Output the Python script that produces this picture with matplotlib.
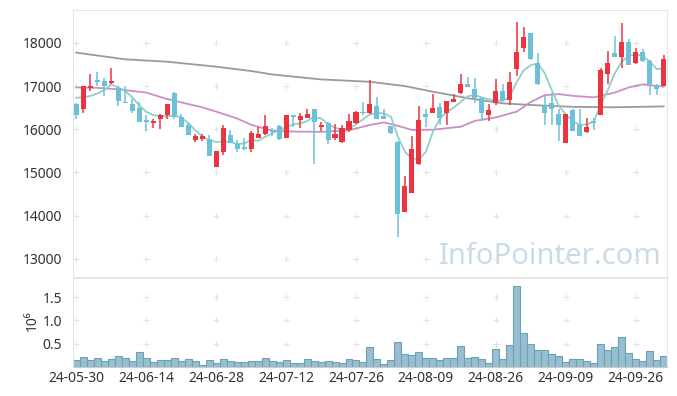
import matplotlib.pyplot as plt
import numpy as np

plt.rcParams['font.family'] = ['Noto Sans', 'DejaVu Sans']

# daily OHLC (KRW), 24-05-30 .. 24-10-04
opens = [16580, 16480, 16960, 17120, 17120, 17080, 16950, 16630, 16580, 16490,
         16190, 16150, 16230, 16320, 16840, 16280, 16100, 15760, 15780, 15780,
         15130, 15480, 15870, 15650, 15580, 15540, 15810, 15880, 15975, 16070,
         15810, 16330, 16210, 16270, 16460, 16060, 16145, 15810, 15710, 15980,
         16140, 16400, 16370, 16540, 16300, 16070, 15710, 14090, 14530, 15190,
         16350, 16380, 16510, 16380, 16640, 16830, 17060, 16930, 16715, 16330,
         16600, 16880, 16680, 17390, 17890, 18240, 17530, 16540, 16620, 16350,
         15690, 16440, 16110, 15930, 16190, 16330, 17270, 17760, 17680, 18010,
         17530, 17780, 17580, 17020, 17010]
highs = [16600, 17010, 17280, 17330, 17180, 17430, 17000, 17000, 16690, 16640,
         16320, 16240, 16350, 16590, 16860, 16345, 16150, 15890, 15890, 15870,
         15500, 16100, 15980, 15750, 15810, 15970, 16060, 16330, 16020, 16090,
         16340, 16340, 16370, 16460, 16470, 16180, 16160, 16120, 16100, 16350,
         16420, 16630, 17140, 16750, 16480, 16080, 15720, 14920, 15840, 16540,
         16480, 16810, 16620, 16660, 16810, 17270, 17220, 17190, 16740, 16580,
         17160, 17040, 17330, 18490, 18370, 18240, 17760, 16780, 16830, 16470,
         16350, 16470, 16470, 16270, 16270, 17410, 17810, 18160, 18450, 18090,
         17890, 17860, 17600, 17060, 17730]
lows = [16240, 16380, 16890, 17000, 16770, 17060, 16550, 16600, 16370, 16175,
        15970, 16030, 16000, 16230, 16240, 16060, 15860, 15710, 15740, 15390,
        15130, 15400, 15680, 15480, 15530, 15480, 15800, 15860, 15850, 15750,
        15810, 16060, 16040, 16260, 15190, 15970, 15660, 15750, 15690, 15940,
        16130, 16330, 16360, 16240, 16230, 15900, 13500, 14090, 14520, 15180,
        16060, 16370, 16100, 16100, 16630, 16820, 16980, 16620, 16190, 16190,
        16560, 16660, 16560, 17240, 17790, 17600, 17030, 16100, 16100, 15740,
        15690, 15950, 15840, 15920, 15980, 16330, 17040, 17670, 17420, 17490,
        17510, 17560, 16790, 16790, 17000]
closes = [16340, 17000, 17000, 17100, 17000, 17120, 16660, 16610, 16430, 16175,
          16180, 16200, 16320, 16580, 16290, 16060, 15870, 15840, 15840, 15390,
          15500, 16030, 15690, 15540, 15540, 15920, 15890, 16080, 15935, 15780,
          16330, 16290, 16310, 16345, 16175, 16100, 15750, 15890, 16020, 16190,
          16390, 16370, 16580, 16245, 16250, 15905, 14050, 14685, 15540, 16210,
          16290, 16490, 16270, 16650, 16700, 17060, 16990, 16715, 16380, 16440,
          16880, 16680, 17085, 17780, 18130, 17620, 17050, 16380, 16480, 16100,
          16350, 15960, 15850, 16060, 16140, 17370, 17525, 17680, 18010, 17500,
          17780, 17580, 17040, 16930, 17625]

# volume in millions of shares
volume_m = [0.16, 0.21, 0.16, 0.19, 0.14, 0.18, 0.24, 0.20, 0.14, 0.33,
            0.19, 0.11, 0.16, 0.16, 0.19, 0.14, 0.17, 0.14, 0.05, 0.16,
            0.09, 0.17, 0.14, 0.11, 0.11, 0.14, 0.14, 0.19, 0.14, 0.11,
            0.16, 0.09, 0.09, 0.17, 0.14, 0.11, 0.14, 0.12, 0.10, 0.17,
            0.16, 0.11, 0.43, 0.17, 0.06, 0.16, 0.54, 0.28, 0.26, 0.32,
            0.19, 0.19, 0.16, 0.19, 0.19, 0.45, 0.19, 0.21, 0.17, 0.09,
            0.39, 0.17, 0.47, 1.74, 0.73, 0.49, 0.36, 0.36, 0.28, 0.24,
            0.11, 0.17, 0.17, 0.13, 0.09, 0.49, 0.36, 0.43, 0.64, 0.30,
            0.17, 0.13, 0.34, 0.15, 0.24]

# moving averages
ma5 = [16730, 16740, 16770, 16830, 16905, 17040, 16970, 16890, 16740, 16560,
       16405, 16330, 16305, 16305, 16320, 16275, 16150, 15980, 15845, 15735,
       15710, 15710, 15710, 15660, 15670, 15750, 15735, 15825, 15905, 15980,
       16045, 16115, 16135, 16190, 16290, 16250, 16120, 16035, 16000, 16015,
       16120, 16230, 16345, 16380, 16365, 16290, 15825, 15480, 15325, 15305,
       15480, 15945, 16250, 16405, 16505, 16635, 16770, 16790, 16740, 16690,
       16675, 16655, 16755, 17100, 17370, 17485, 17525, 17295, 16905, 16545,
       16345, 16190, 16100, 16115, 16175, 16575, 16905, 17295, 17565, 17700,
       17735, 17700, 17565, 17395, 17410]
ma20_x = [0, 3, 6, 10, 13, 18, 20, 23, 25, 28, 30, 35, 39, 42, 44, 46, 48,
          51, 55, 57, 60, 63, 65, 67, 69, 71, 74, 77, 79, 81, 84]
ma20 = [16970, 16960, 16925, 16850, 16700, 16510, 16410, 16250, 16105, 15970,
        15950, 15940, 15980, 16100, 16160, 16080, 15985, 15990, 16060, 16195,
        16275, 16410, 16635, 16790, 16815, 16775, 16740, 16850, 16970, 17040,
        16985]
ma_long_x = [0, 7, 13, 20, 25, 28, 35, 42, 47, 51, 56, 61, 66, 71, 77, 84]
ma_long = [17775, 17620, 17565, 17450, 17350, 17270, 17155, 17100, 17000,
           16870, 16720, 16600, 16555, 16520, 16510, 16530]

tick_pos = [0, 10, 20, 30, 40, 50, 60, 70, 80]
tick_labels = ['24-05-30', '24-06-14', '24-06-28', '24-07-12', '24-07-26',
               '24-08-09', '24-08-26', '24-09-09', '24-09-26']
price_ticks = [13000, 14000, 15000, 16000, 17000, 18000]
vol_ticks = [0.5, 1.0, 1.5]

red = '#ec3440'
blue = '#6cc1d8'
spine_c = '#e6e6e6'
cross_c = '#e4e4e4'

x = np.arange(len(opens))
o = np.array(opens)
c = np.array(closes)
colors = [red if cc >= oo else blue for oo, cc in zip(o, c)]

fig = plt.figure(figsize=(6.77, 3.96), dpi=100)
ax = fig.add_axes([0.108, 0.3005, 0.877, 0.674])
axv = fig.add_axes([0.108, 0.0725, 0.877, 0.226], sharex=ax)

# watermark
ax.text(0.803, 0.078, 'InfoPointer.com', transform=ax.transAxes, fontsize=21,
        color='#c9dce6', ha='center', va='center', zorder=0)

# grid crosses
gx, gy = np.meshgrid(tick_pos, price_ticks)
ax.plot(gx.ravel(), gy.ravel(), '+', color=cross_c, ms=4, mew=0.8, zorder=0)
vx, vy = np.meshgrid(tick_pos, vol_ticks)
axv.plot(vx.ravel(), vy.ravel(), '+', color=cross_c, ms=4, mew=0.8, zorder=0)

# moving averages
ax.plot(ma_long_x, ma_long, color='#9a9a9a', lw=1.3, zorder=2)
ax.plot(ma20_x, ma20, color='#cc8ec7', lw=1.3, zorder=2)
ax.plot(x, ma5, color='#8fd0c6', lw=1.3, zorder=2)

# candles
ax.vlines(x, lows, highs, colors=colors, lw=1.1, zorder=3)
body = np.maximum(np.abs(c - o), 30)
ax.bar(x, body, bottom=np.minimum(o, c), width=0.72, color=colors, zorder=4)

ax.set_xlim(-0.45, 84.45)
ax.set_ylim(12580, 18760)
ax.set_yticks(price_ticks)
ax.tick_params(axis='y', length=0, pad=8, labelsize=10, labelcolor='#333333')
ax.tick_params(axis='x', length=0, labelbottom=False)
for s in ax.spines.values():
    s.set_color(spine_c)

# volume
axv.bar(x, volume_m, width=1.0, color='#97bfcf', edgecolor='#6f9fb6', lw=0.8, zorder=2)
axv.set_ylim(0, 1.91)
axv.set_yticks(vol_ticks)
axv.set_yticklabels(['0.5', '1.0', '1.5'])
axv.set_xticks(tick_pos)
axv.set_xticklabels(tick_labels)
axv.tick_params(axis='y', length=0, pad=8, labelsize=10, labelcolor='#333333')
axv.tick_params(axis='x', length=0, pad=3, labelsize=10, labelcolor='#333333')
for s in axv.spines.values():
    s.set_color(spine_c)
axv.spines['bottom'].set_color('#cccccc')

fig.text(0.047, 0.189, '10\u2076', rotation=90, ha='center', va='center',
         fontsize=10, color='#333333')

fig.savefig('out.png', dpi=100)
